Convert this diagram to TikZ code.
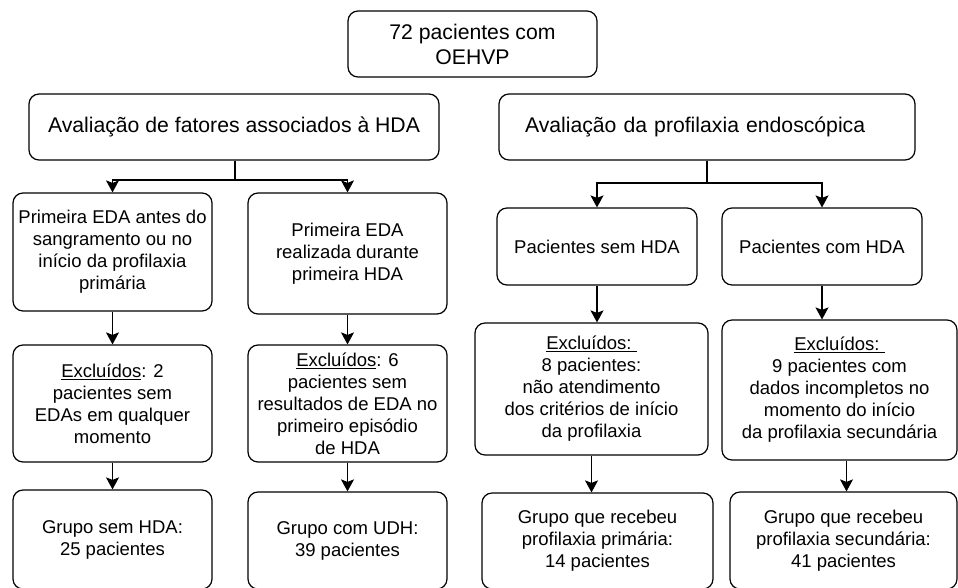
\documentclass[tikz,border=0pt]{standalone}
\usepackage{fontspec}
\setmainfont{Liberation Sans}
\usepackage{tikz}
\usetikzlibrary{arrows.meta}
\usetikzlibrary{calc}
\usetikzlibrary{positioning}

\begin{document}
\begin{tikzpicture}[x=1pt,y=-1pt,>={Stealth[length=12pt,width=13pt,inset=2.5pt]},line width=1.2pt]
	\tikzstyle{caixa}=[draw, rectangle, rounded corners=10pt, align=center, inner sep=0pt,
		font=\fontsize{18.5}{22}\selectfont]
	\tikzstyle{titulo}=[caixa, font=\fontsize{21.2}{25}\selectfont]
	\useasboundingbox (0,0) rectangle (958,587);
	\clip (0,0) rectangle (958,587);

	% topo
	\node[titulo, minimum width=249pt, minimum height=66pt] (total) at (472.5,44) {72 pacientes com\\OEHVP};
	\node[titulo, minimum width=410pt, minimum height=66pt] (avalHDA) at (234,127) {Avaliação de fatores associados à HDA};
	\node[titulo, align=left, text width=364pt, inner xsep=26pt, minimum height=66pt] (avalProf) at (707,127) {Avaliação da profilaxia endoscópica};

	% ramo esquerdo
	\node[caixa, minimum width=199pt, minimum height=118pt] (antes) at (112.5,252) {Primeira EDA antes do\\sangramento ou no\\início da profilaxia\\primária};
	\node[caixa, minimum width=199pt, minimum height=121pt] (durante) at (347.5,253.5) {Primeira EDA\\realizada durante\\primeira HDA};
	\node[caixa, minimum width=199pt, minimum height=117pt] (exclA) at (112.5,403.5) {\underline{Excluídos}: 2\\pacientes sem\\EDAs em qualquer\\momento};
	\node[caixa, minimum width=199pt, minimum height=117pt] (exclB) at (347.5,403.5) {\underline{Excluídos}: 6\\pacientes sem\\resultados de EDA no\\primeiro episódio\\de HDA};
	\node[caixa, minimum width=199pt, minimum height=99pt] (semHDA) at (112.5,539.5) {Grupo sem HDA:\\25 pacientes};
	\node[caixa, minimum width=199pt, minimum height=97pt] (comUDH) at (347.5,540.5) {Grupo com UDH:\\39 pacientes};

	% ramo direito
	\node[caixa, minimum width=200pt, minimum height=77pt] (pacSem) at (597,246.5) {Pacientes sem HDA};
	\node[caixa, minimum width=200pt, minimum height=77pt] (pacCom) at (822,246.5) {Pacientes com HDA};
	\node[caixa, minimum width=233pt, minimum height=132pt] (exclC) at (591.5,389) {\underline{Excluídos:\ }\\8 pacientes:\\não atendimento\\dos critérios de início\\da profilaxia};
	\node[caixa, minimum width=235pt, minimum height=140pt] (exclD) at (839.5,390) {\underline{Excluídos:\ }\\9 pacientes com\\dados incompletos no\\momento do início\\da profilaxia secundária};
	\node[caixa, minimum width=231pt, minimum height=96pt] (primaria) at (597.5,541) {Grupo que recebeu\\profilaxia primária:\\14 pacientes};
	\node[caixa, minimum width=227pt, minimum height=97pt] (secundaria) at (843.5,540.5) {Grupo que recebeu\\profilaxia secundária:\\41 pacientes};

	\coordinate (jHDA) at (235,180);
	\coordinate (jProf) at (707,183);

	\draw (avalHDA.south -| jHDA) -- (jHDA);
	\draw[->] (jHDA) -| (antes.north);
	\draw[->] (jHDA) -| (durante.north);
	\draw (avalProf.south) -- (jProf);
	\draw[->] (jProf) -| (pacSem.north);
	\draw[->] (jProf) -| (pacCom.north);

	\path[->]
		(antes) edge (exclA)
		(exclA) edge (semHDA)
		(durante) edge (exclB)
		(exclB) edge (comUDH);
	\draw[->] (pacSem.south) -- (pacSem.south |- exclC.north);
	\draw[->] (pacCom.south) -- (pacCom.south |- exclD.north);
	\draw[->] (exclC.south) -- (exclC.south |- primaria.north);
	\draw[->] ([xshift=7pt]exclD.south) -- ([xshift=7pt]exclD.south |- secundaria.north);
\end{tikzpicture}
\end{document}
